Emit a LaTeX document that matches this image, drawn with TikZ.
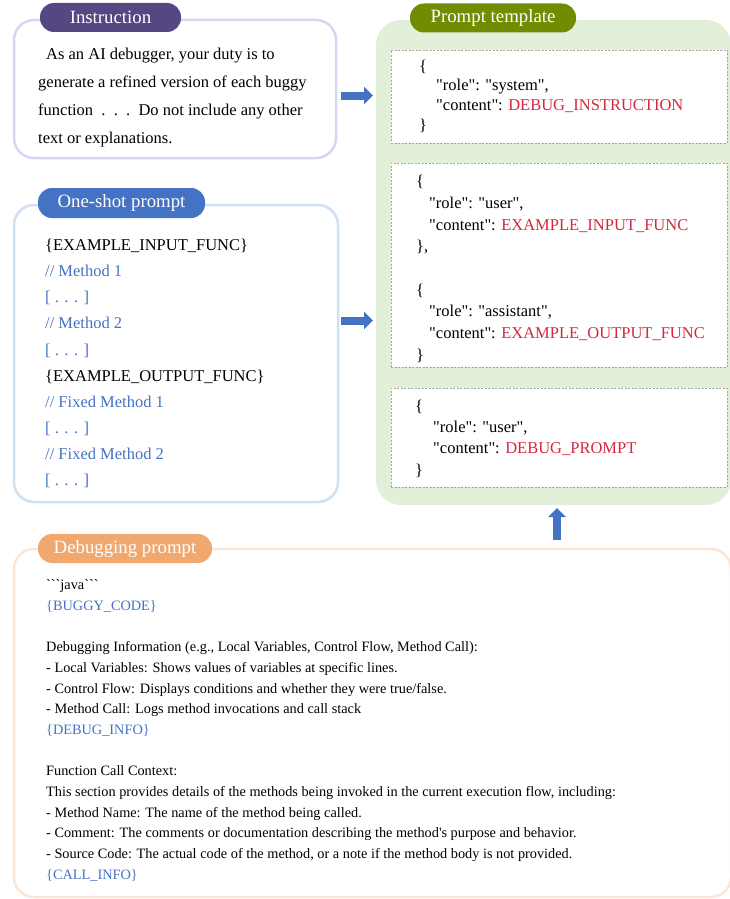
\documentclass[tikz,border=0pt]{standalone}
\usepackage{fontspec}
\setmainfont{Liberation Serif}[Ligatures=TeXOff]
\usetikzlibrary{arrows.meta, positioning, calc}

\definecolor{instrborder}{RGB}{216,212,245}
\definecolor{instrpurple}{RGB}{86,70,130}
\definecolor{shotborder}{RGB}{207,224,243}
\definecolor{shotblue}{RGB}{68,114,196}
\definecolor{tmplgreen}{RGB}{226,240,217}
\definecolor{tmplolive}{RGB}{112,140,0}
\definecolor{debugborder}{RGB}{251,229,214}
\definecolor{debugorange}{RGB}{240,168,110}
\definecolor{keyred}{RGB}{215,38,61}
\definecolor{dashgray}{RGB}{165,165,165}

\newcommand{\bluetxt}[1]{\textcolor{shotblue}{#1}}
\newcommand{\redtxt}[1]{\textcolor{keyred}{#1}}

\tikzset{
  panel/.style={draw, line width=2.5pt, rounded corners=20pt, inner sep=0, outer sep=0},
  jsonbox/.style={draw=dashgray, dash pattern=on 2pt off 1.5pt, line width=0.6pt, fill=white, inner sep=0, outer sep=0},
  pill/.style={rounded corners=14pt, text=white, inner sep=0, outer sep=0, minimum height=29pt, font=\fontsize{18.8}{20}\selectfont},
  body/.style={anchor=base west, align=left, inner sep=0},
  blockarrow/.style={draw=shotblue, line width=8pt, -{Triangle[length=9pt,width=17pt]}}
}

\begin{document}
\begin{tikzpicture}[x=1pt, y=-1pt]
\useasboundingbox (0,0) rectangle (730,899);

% panels
\node[panel, draw=instrborder, minimum width=322, minimum height=138] (instr) at (175,89) {};
\node[panel, draw=shotborder, minimum width=324, minimum height=297] (shot) at (176,353.5) {};
\node[fill=tmplgreen, rounded corners=25pt, inner sep=0, outer sep=0, minimum width=355, minimum height=485] (tmpl) at (553.5,262.5) {};
\node[panel, draw=debugborder, minimum width=717, minimum height=348] (debug) at (372.5,723) {};

% json messages
\node[jsonbox, minimum width=336, minimum height=93] (sys) at (559,96.5) {};
\node[jsonbox, minimum width=336, minimum height=204] (shotmsg) at (559,265) {};
\node[jsonbox, minimum width=336, minimum height=99] (usermsg) at (559,437.5) {};

% labels
\node[pill, fill=instrpurple, minimum width=141] (instrlbl) at (110.5,17.5) {Instruction};
\node[pill, fill=shotblue, minimum width=167, minimum height=30] (shotlbl) at (121.5,203) {One-shot prompt};
\node[pill, fill=tmplolive, minimum width=166] (tmpllbl) at (493,18) {Prompt template};
\node[pill, fill=debugorange, minimum width=174] (debuglbl) at (125,548.5) {Debugging prompt};

% texts (base = last line)
\node[body, font=\fontsize{16.5}{28.1}\selectfont] (instrtxt) at (38,143.8) {\hspace*{8pt}As an AI debugger, your duty is to\\
generate a refined version of each buggy\\
function\ \ .\ \ .\ \ .\ \ Do not include any other\\
text or explanations.};

\node[body, font=\fontsize{16.5}{26.1}\selectfont] (shottxt) at (45,485.5) {\{EXAMPLE\_INPUT\_FUNC\}\\
\bluetxt{// Method 1}\\
\bluetxt{[ . . . ]}\\
\bluetxt{// Method 2}\\
\bluetxt{[ . . . ]}\\
\{EXAMPLE\_OUTPUT\_FUNC\}\\
\bluetxt{// Fixed Method 1}\\
\bluetxt{[ . . . ]}\\
\bluetxt{// Fixed Method 2}\\
\bluetxt{[ . . . ]}};

\node[body, font=\fontsize{16.5}{19.7}\selectfont] (systxt) at (419,130.1) {\{\\
\hspace*{17pt}"role": "system",\\
\hspace*{17pt}"content": \redtxt{DEBUG\_INSTRUCTION}\\
\}};

\node[body, font=\fontsize{16.5}{21.7}\selectfont] (shotmsgtxt) at (416,360.3) {\{\\
\hspace*{13pt}"role": "user",\\
\hspace*{13pt}"content": \redtxt{EXAMPLE\_INPUT\_FUNC}\\
\},\\
\\
\{\\
\hspace*{13pt}"role": "assistant",\\
\hspace*{13pt}"content": \redtxt{EXAMPLE\_OUTPUT\_FUNC}\\
\}};

\node[body, font=\fontsize{16.5}{21.2}\selectfont] (usertxt) at (415,475.1) {\{\\
\hspace*{18pt}"role": "user",\\
\hspace*{18pt}"content": \redtxt{DEBUG\_PROMPT}\\
\}};

\node[body, font=\fontsize{14.3}{20.7}\selectfont] (debugtxt) at (46,879.3) {```java```\\
\bluetxt{\{BUGGY\_CODE\}}\\
\\
Debugging Information (e.g., Local Variables, Control Flow, Method Call):\\
- Local Variables: Shows values of variables at specific lines.\\
- Control Flow: Displays conditions and whether they were true/false.\\
- Method Call: Logs method invocations and call stack\\
\bluetxt{\{DEBUG\_INFO\}}\\
\\
Function Call Context:\\
This section provides details of the methods being invoked in the current execution flow, including:\\
- Method Name: The name of the method being called.\\
- Comment: The comments or documentation describing the method's purpose and behavior.\\
- Source Code: The actual code of the method, or a note if the method body is not provided.\\
\bluetxt{\{CALL\_INFO\}}};

% arrows
\coordinate (a1) at (0,95.5);
\coordinate (a2) at (0,320.5);
\coordinate (a3) at (557,0);
\draw[blockarrow, shorten <=5pt, shorten >=3pt] (instr.east |- a1) -- (tmpl.west |- a1);
\draw[blockarrow, shorten <=3pt, shorten >=3pt] (shot.east |- a2) -- (tmpl.west |- a2);
\draw[blockarrow, shorten <=9pt, shorten >=3pt] (debug.north -| a3) -- (tmpl.south -| a3);
\end{tikzpicture}
\end{document}
